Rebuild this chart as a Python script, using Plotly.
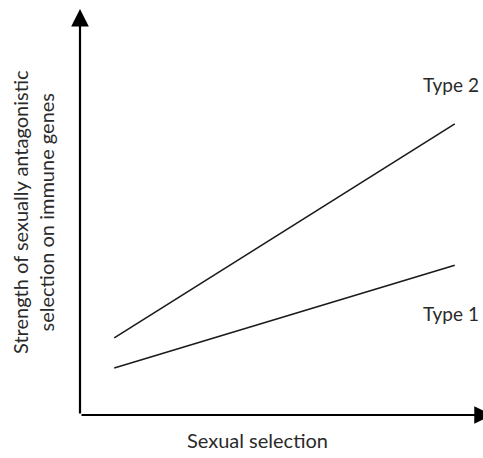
import plotly.graph_objects as go

# Data (conceptual chart, arbitrary units)
sexual_selection = [0.85, 9.3]
type2_strength = [1.9, 7.17]
type1_strength = [1.16, 3.69]
line_names = ["Type 2", "Type 1"]
x_title = "Sexual selection"
y_title = ["Strength of sexually antagonistic", "selection on immune genes"]

FONT = "Lato"
TXT = "#2a2a2a"
FS = 20

fig = go.Figure()
for name, ys in zip(line_names, [type2_strength, type1_strength]):
    fig.add_trace(go.Scatter(x=sexual_selection, y=ys, mode="lines", name=name,
                             line=dict(color="#1a1a1a", width=1.6), showlegend=False,
                             hoverinfo="skip"))

# axes arrows
for tip in [(0, 10), (10.22, 0)]:
    fig.add_annotation(x=tip[0], y=tip[1], ax=0, ay=0, xref="x", yref="y", axref="x", ayref="y",
                       showarrow=True, arrowhead=2, arrowsize=1.6, arrowwidth=2.2,
                       arrowcolor="black", text="")

# line labels
fig.add_annotation(x=9.2, y=8.15, text=line_names[0], showarrow=False,
                   font=dict(family=FONT, size=19, color=TXT))
fig.add_annotation(x=9.2, y=2.51, text=line_names[1], showarrow=False,
                   font=dict(family=FONT, size=19, color=TXT))

# axis titles
fig.add_annotation(x=(257 - 80) / 403, y=-(440 - 415) / 406, xref="paper", yref="paper",
                   text=x_title, showarrow=False, xanchor="center", yanchor="middle",
                   font=dict(family=FONT, size=FS, color=TXT))
fig.add_annotation(x=(33 - 80) / 403, y=(415 - 212) / 406, xref="paper", yref="paper",
                   text="<br>".join(y_title), showarrow=False, textangle=-90,
                   xanchor="center", yanchor="middle",
                   font=dict(family=FONT, size=FS, color=TXT))

fig.update_xaxes(range=[0, 10], visible=False, fixedrange=True)
fig.update_yaxes(range=[0, 10], visible=False, fixedrange=True)
fig.update_layout(width=483, height=458, margin=dict(l=80, r=0, t=9, b=43),
                  plot_bgcolor="white", paper_bgcolor="white")
fig.write_html(
    "out.html",
    config={"displayModeBar": False, "staticPlot": True},
    post_script="document.body.style.margin='0';"
                "document.documentElement.style.overflow='hidden';"
                "document.body.style.overflow='hidden';",
)
